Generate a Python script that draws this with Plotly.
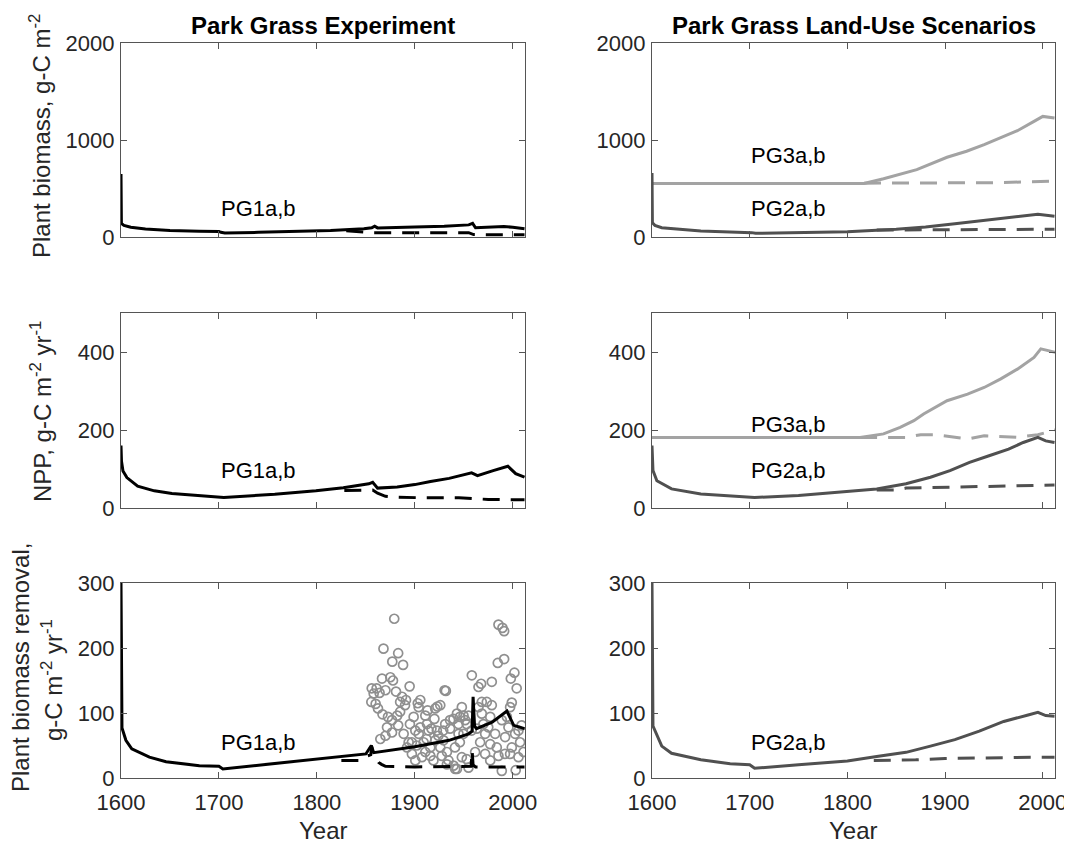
import plotly.graph_objects as go

FONT = "Liberation Sans, Arial, Helvetica, sans-serif"
TXT = "#262626"
C_PG1 = "#000000"
C_PG2 = "#505050"
C_PG3 = "#a3a3a3"
C_OBS = "#8f8f8f"

x_ticks = [1600, 1700, 1800, 1900, 2000]

# ---------------- Park Grass Experiment (PG1) ----------------
pg1_bio_a_year = [1600, 1600.4, 1603, 1610, 1625, 1650, 1680, 1700, 1702, 1706, 1740, 1780, 1814, 1848, 1856, 1859, 1862, 1900, 1930, 1955, 1959, 1962, 1980, 1991, 2000, 2008, 2012]
pg1_bio_a_val = [650, 140, 120, 100, 82, 68, 60, 57, 48, 42, 48, 56, 66, 84, 95, 112, 94, 102, 110, 125, 140, 95, 100, 108, 100, 94, 85]
pg1_bio_b_year = [1830, 1845, 1857, 1890, 1955, 1960, 2012]
pg1_bio_b_val = [65, 50, 45, 45, 45, 25, 22]

pg1_npp_a_year = [1600, 1600.5, 1602, 1606, 1617, 1634, 1652, 1673, 1700, 1705, 1757, 1799, 1827, 1853, 1857, 1862, 1882, 1900, 1916, 1935, 1958, 1964, 1980, 1995, 2003, 2012]
pg1_npp_a_val = [160, 120, 95, 78, 56, 44, 37, 33, 29, 27, 35, 44, 52, 62, 66, 51, 54, 60, 68, 76, 90, 83, 96, 107, 88, 79]
pg1_npp_b_year = [1828, 1857, 1862, 1870, 1880, 1910, 1945, 1960, 1975, 2012]
pg1_npp_b_val = [45, 46, 38, 30, 28, 26, 26, 24, 22, 21]

pg1_rem_a_year = [1600, 1600.3, 1601, 1605, 1611, 1629, 1646, 1680, 1700, 1704, 1748, 1799, 1850, 1855.6, 1858, 1900, 1935, 1955, 1958.5, 1959.5, 1961, 1963, 1979, 1994, 2001, 2012]
pg1_rem_a_val = [300, 85, 77, 58, 45, 32, 25, 19, 18, 14, 21, 29, 37, 50, 39, 48, 58, 68, 72, 125, 80, 76, 86, 103, 81, 76]
pg1_rem_b_year = [1825, 1845, 1850, 1855, 1856, 1857, 1860, 1863, 1866, 1870, 1900, 1930, 1957.5, 1958.5, 1959.5, 1962, 1990, 2012]
pg1_rem_b_val = [27, 27, 33, 36, 48, 40, 30, 24, 21, 18, 17, 17, 18, 42, 20, 17, 17, 17]

# observed biomass removal (Park Grass hay yields)
obs_year = [1879, 1868, 1883, 1877, 1888, 1866.5, 1875, 1877.7, 1894.7, 1856, 1861, 1858, 1864, 1870, 1855.6,
            1860, 1862.4, 1867, 1880.8, 1887, 1885, 1891, 1890, 1905.6, 1903, 1885, 1882, 1930.4, 1931.7, 1923,
            1926, 1913, 1920, 1910.7, 1898.8, 1895, 1883, 1871.6, 1876.7, 1864.8, 1870, 1900.5, 1904, 1897, 1893.7,
            1892, 1902, 1909, 1912, 1917, 1922.5, 1924, 1929, 1936, 1939.5, 1943, 1946, 1949.7, 1951.4, 1953,
            1944.6, 1936, 1920.8, 1910.7, 1907.3, 1915.8, 1919, 1927.6, 1932.8, 1934.4, 1939.5, 1943, 1941, 1946, 1949.7,
            1948, 1953, 1958.2, 1965, 1967.7, 1978.6, 1968.4, 1973.5, 1978.6, 1965, 1970, 1975, 1971.8, 1966.7, 1963.3,
            1982, 1985.4, 1989.5, 1991.2, 1984.7, 1991.2, 2001.7, 1998, 2004, 1999, 1997.3, 2009, 2005.8, 2002.4, 2007.5,
            2011, 2005.8, 1997.3, 1992, 1985.4, 1983.7, 1977, 1971.8, 1977, 1988.8, 2003, 1961.6, 1954.8, 1941.2, 1932.8,
            1926, 1929.3, 1915.8, 1900.5, 1897, 1888.6, 1876.7, 1872.6, 1905.6, 1914, 1944.6, 1958, 1968.4, 1977, 1988.8,
            1994, 1995.6, 1992.2, 1999, 1931, 1920.8, 1903.9, 1912.4, 1948, 1954.8]
obs_val = [245, 199, 192, 179, 174, 153, 155, 150, 141, 138, 138, 130, 131, 135, 117,
           114, 107, 98, 133, 125, 117, 120, 112, 120, 115, 102, 96, 135, 134, 110,
           112, 104, 91, 96, 94, 83, 81, 78, 70, 60, 65, 73, 68, 55, 55,
           47, 50, 55, 60, 76, 73, 65, 73, 76, 91, 99, 94, 96, 89, 83,
           83, 89, 58, 40, 32, 34, 27, 34, 40, 27, 19, 14, 47, 55, 68,
           32, 29, 158, 140, 145, 148, 117, 117, 112, 109, 83, 78, 68, 55, 76,
           68, 236, 231, 226, 177, 183, 162, 153, 138, 116, 109, 81, 73, 68, 55,
           40, 32, 37, 37, 34, 47, 52, 37, 27, 11, 12, 40, 16, 14, 21,
           47, 58, 47, 27, 37, 68, 89, 94, 78, 73, 68, 73, 99, 94, 89,
           94, 78, 63, 47, 83, 107, 109, 83, 109, 96]

# ---------------- Land-use scenarios (PG2, PG3) ----------------
pg2_bio_a_year = [1600, 1600.4, 1603, 1610, 1650, 1700, 1702, 1706, 1750, 1800, 1850, 1880, 1910, 1950, 1985, 1995, 2012]
pg2_bio_a_val = [660, 147, 120, 96, 62, 51, 45, 38, 46, 55, 79, 103, 137, 182, 225, 235, 215]
pg2_bio_b_year = [1830, 1900, 1960, 2012]
pg2_bio_b_val = [72, 75, 78, 80]
pg3_bio_a_year = [1600, 1817, 1837, 1871, 1902, 1922, 1940, 1957, 1974, 1991, 2000, 2012]
pg3_bio_a_val = [551, 551, 600, 695, 822, 884, 952, 1021, 1096, 1192, 1243, 1226]
pg3_bio_b_year = [1817, 1900, 1950, 2012]
pg3_bio_b_val = [555, 558, 560, 575]

pg2_npp_a_year = [1600, 1600.5, 1601, 1605, 1620, 1650, 1700, 1705, 1750, 1800, 1830, 1860, 1885, 1905, 1925, 1945, 1965, 1980, 1995, 2003, 2012]
pg2_npp_a_val = [160, 120, 96, 70, 49, 36, 29, 27, 32, 42, 49, 62, 79, 96, 117, 134, 151, 168, 181, 172, 168]
pg2_npp_b_year = [1830, 1850, 1860, 1900, 1960, 2012]
pg2_npp_b_val = [46, 46, 51, 53, 57, 59]
pg3_npp_a_year = [1600, 1813, 1837, 1854, 1868, 1878, 1902, 1923, 1940, 1957, 1974, 1991, 1998, 2005, 2013]
pg3_npp_a_val = [181, 181, 190, 207, 224, 241, 275, 292, 309, 331, 356, 386, 408, 403, 399]
pg3_npp_b_year = [1813, 1860, 1875, 1889, 1912, 1923, 1940, 1957, 1974, 1995, 2013]
pg3_npp_b_val = [181, 181, 188, 188, 181, 177, 185, 183, 181, 188, 200]

pg2_rem_a_year = [1600, 1600.3, 1601, 1610, 1620, 1650, 1680, 1700, 1705, 1750, 1800, 1830, 1860, 1885, 1910, 1935, 1960, 1985, 1995, 2003, 2012]
pg2_rem_a_val = [300, 85, 80, 49, 38, 28, 22, 20.5, 15, 20.5, 26, 33, 39.5, 49, 59, 72, 87, 97, 101, 96, 95]
pg2_rem_b_year = [1827, 1870, 1900, 1930, 1960, 1990, 2012]
pg2_rem_b_val = [27, 28, 30, 31, 31, 32, 32]

# ---------------- layout geometry ----------------
# the page body has an 8 px margin, so the figure is drawn 8 px in from the window corner
OFF = 8
W, H = 1072 - OFF, 844 - OFF


def px(x):
    return (x - OFF) / W


def py(y):
    return 1 - (y - OFF) / H


xdom_l = [px(121), px(525)]
xdom_r = [px(652), px(1055)]
ydoms = [[py(237), py(43)], [py(508), py(313)], [py(778), py(583)]]
yranges = [[0, 2000], [0, 500], [0, 300]]
ytickvals = [[0, 1000, 2000], [0, 200, 400], [0, 100, 200, 300]]

fig = go.Figure()

DASH = "17px,11px"


def add_line(ax, xs, ys, color, dash=None, width=3):
    fig.add_trace(go.Scatter(
        x=xs, y=ys, mode="lines", xaxis="x" + ax, yaxis="y" + ax,
        line=dict(color=color, width=width, dash=dash if dash else "solid"),
        showlegend=False, hoverinfo="skip"))


ids = {(0, 0): "", (0, 1): "2", (1, 0): "3", (1, 1): "4", (2, 0): "5", (2, 1): "6"}

# Row 1 biomass
add_line(ids[(0, 0)], pg1_bio_b_year, pg1_bio_b_val, C_PG1, DASH)
add_line(ids[(0, 0)], pg1_bio_a_year, pg1_bio_a_val, C_PG1)
add_line(ids[(0, 1)], pg3_bio_b_year, pg3_bio_b_val, C_PG3, DASH)
add_line(ids[(0, 1)], pg3_bio_a_year, pg3_bio_a_val, C_PG3)
add_line(ids[(0, 1)], pg2_bio_b_year, pg2_bio_b_val, C_PG2, DASH)
add_line(ids[(0, 1)], pg2_bio_a_year, pg2_bio_a_val, C_PG2)

# Row 2 NPP
add_line(ids[(1, 0)], pg1_npp_b_year, pg1_npp_b_val, C_PG1, DASH)
add_line(ids[(1, 0)], pg1_npp_a_year, pg1_npp_a_val, C_PG1)
add_line(ids[(1, 1)], pg3_npp_b_year, pg3_npp_b_val, C_PG3, DASH)
add_line(ids[(1, 1)], pg3_npp_a_year, pg3_npp_a_val, C_PG3)
add_line(ids[(1, 1)], pg2_npp_b_year, pg2_npp_b_val, C_PG2, DASH)
add_line(ids[(1, 1)], pg2_npp_a_year, pg2_npp_a_val, C_PG2)

# Row 3 removal
fig.add_trace(go.Scatter(
    x=obs_year, y=obs_val, mode="markers", xaxis="x5", yaxis="y5",
    marker=dict(symbol="circle-open", size=9, color=C_OBS, line=dict(width=1.7, color=C_OBS)),
    showlegend=False, hoverinfo="skip"))
add_line(ids[(2, 0)], pg1_rem_b_year, pg1_rem_b_val, C_PG1, DASH)
add_line(ids[(2, 0)], pg1_rem_a_year, pg1_rem_a_val, C_PG1)
add_line(ids[(2, 1)], pg2_rem_b_year, pg2_rem_b_val, C_PG2, DASH)
add_line(ids[(2, 1)], pg2_rem_a_year, pg2_rem_a_val, C_PG2)

axis_common = dict(
    showline=True, linecolor="#555555", linewidth=1.2, mirror="ticks",
    ticks="inside", ticklen=6, tickwidth=1.2, tickcolor="#555555",
    showgrid=False, zeroline=False, automargin=False,
    tickfont=dict(family=FONT, size=22, color=TXT),
)

layout = {}
for (r, c), s in ids.items():
    layout["xaxis" + s] = dict(
        axis_common, domain=xdom_l if c == 0 else xdom_r, anchor="y" + s,
        range=[1600, 2012.5], tickvals=x_ticks, showticklabels=(r == 2),
        ticklabelstandoff=4,
    )
    layout["yaxis" + s] = dict(
        axis_common, domain=ydoms[r], anchor="x" + s,
        range=yranges[r], tickvals=ytickvals[r], ticklabelstandoff=1,
    )

annotations = []
title_font = dict(family=FONT, size=24, color="#000000")
for text, dom in (("<b>Park Grass Experiment</b>", xdom_l), ("<b>Park Grass Land-Use Scenarios</b>", xdom_r)):
    annotations.append(dict(text=text, x=(dom[0] + dom[1]) / 2, y=py(25), xref="paper", yref="paper",
                            showarrow=False, xanchor="center", yanchor="middle", font=title_font))

ylab_font = dict(family=FONT, size=24, color=TXT)
for dom in (xdom_l, xdom_r):
    annotations.append(dict(text="Year", x=(dom[0] + dom[1]) / 2, y=py(830), xref="paper", yref="paper",
                            showarrow=False, xanchor="center", yanchor="middle", font=ylab_font))

y_labels = [("Plant biomass, g-C m<sup>-2</sup>", 40, 136),
            ("NPP, g-C m<sup>-2</sup> yr<sup>-1</sup>", 41, 412),
            ("Plant biomass removal,", 20, 668),
            ("g-C m<sup>-2</sup> yr<sup>-1</sup>", 52, 680)]
for text, xx, yy in y_labels:
    annotations.append(dict(text=text, x=px(xx), y=py(yy), xref="paper", yref="paper", textangle=-90,
                            showarrow=False, xanchor="center", yanchor="middle", font=ylab_font))

lab_font = dict(family=FONT, size=22, color="#000000")
curve_labels = [("", 1740, 290, "PG1a,b"), ("3", 1740, 95, "PG1a,b"), ("5", 1740, 55, "PG1a,b"),
                ("2", 1740, 840, "PG3a,b"), ("2", 1740, 290, "PG2a,b"),
                ("4", 1740, 215, "PG3a,b"), ("4", 1740, 95, "PG2a,b"),
                ("6", 1740, 55, "PG2a,b")]
for s, xv, yv, t in curve_labels:
    annotations.append(dict(text=t, x=xv, y=yv, xref="x" + s, yref="y" + s, showarrow=False,
                            xanchor="center", yanchor="middle", font=lab_font))

fig.update_layout(
    width=W, height=H, margin=dict(l=0, r=0, t=0, b=0),
    paper_bgcolor="white", plot_bgcolor="white",
    annotations=annotations, showlegend=False,
    **layout,
)

fig.write_html("out.html")
